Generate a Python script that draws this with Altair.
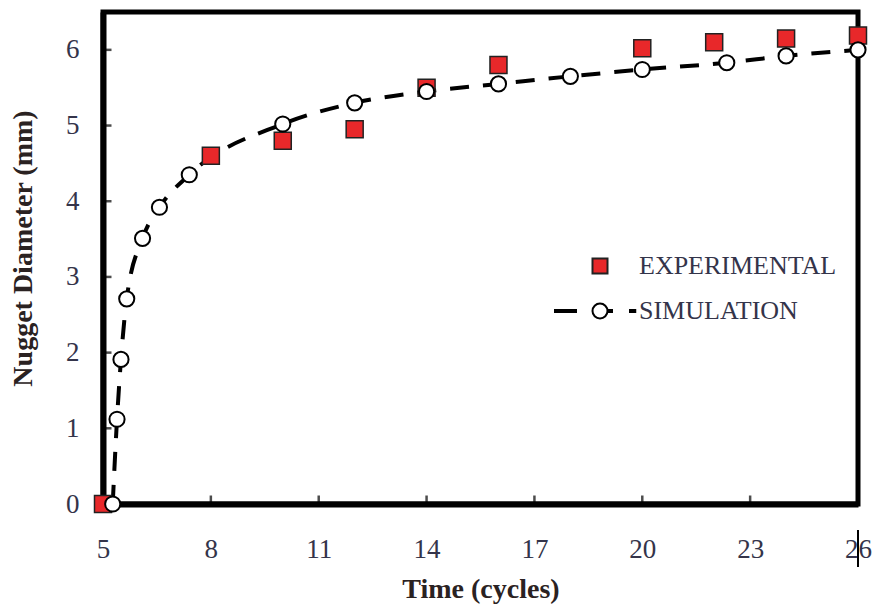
import altair as alt
import pandas as pd

# ---- data ----
exp_time = [5, 8, 10, 12, 14, 16, 20, 22, 24, 26]
exp_diam = [0, 4.6, 4.8, 4.95, 5.5, 5.8, 6.02, 6.1, 6.15, 6.19]

sim_time = [5.27, 5.39, 5.5, 5.66, 6.1, 6.57, 7.4, 10, 12, 14, 16, 18, 20, 22.35, 24, 26]
sim_diam = [0, 1.12, 1.91, 2.71, 3.51, 3.92, 4.35, 5.02, 5.3, 5.45, 5.55, 5.65, 5.74, 5.83, 5.92, 6.0]

x_ticks = [5, 8, 11, 14, 17, 20, 23, 26]
y_ticks = [0, 1, 2, 3, 4, 5, 6]
series_names = ["EXPERIMENTAL", "SIMULATION"]

exp_df = pd.DataFrame({"t": exp_time, "d": exp_diam})
sim_df = pd.DataFrame({"t": sim_time, "d": sim_diam})
xt_df = pd.DataFrame({"t": x_ticks})
yt_df = pd.DataFrame({"d": y_ticks})
leg_df = pd.DataFrame({"series": series_names})

SERIF = "Liberation Serif"
LABEL_COLOR = "#34344a"
TITLE_COLOR = "#2a2222"
RED = "#e8282a"

xscale = alt.Scale(domain=[5, 26], nice=False, zero=False)
yscale = alt.Scale(domain=[0, 6.5], nice=False)

xaxis = alt.Axis(values=x_ticks, format="d", title="Time (cycles)", labelFlush=False,
                 labelPadding=32, titleY=93, titleBaseline="alphabetic")
yaxis = alt.Axis(values=y_ticks, format="d", title="Nugget Diameter (mm)", labelFlush=False,
                 labelPadding=24, titleX=-72, titleY=236, titleAngle=270,
                 titleBaseline="alphabetic", titleAlign="center")

X = alt.X("t:Q", scale=xscale, axis=xaxis)
Y = alt.Y("d:Q", scale=yscale, axis=yaxis)

sim_line = alt.Chart(sim_df).mark_line(
    color="black", strokeWidth=4, strokeDash=[19, 14], interpolate="monotone"
).encode(x=X, y=Y)

exp_pts = alt.Chart(exp_df).mark_point(
    shape="square", filled=True, fill=RED, stroke="#222", strokeWidth=1.5,
    size=289, opacity=1
).encode(x=X, y=Y)

sim_pts = alt.Chart(sim_df).mark_point(
    shape="circle", filled=True, fill="white", stroke="black", strokeWidth=2,
    size=230, opacity=1
).encode(x=X, y=Y)

x_tick_marks = alt.Chart(xt_df).mark_tick(
    orient="vertical", size=17, thickness=2.5, color="black", clip=True
).encode(x=alt.X("t:Q", scale=xscale), y=alt.datum(0))

y_tick_marks = alt.Chart(yt_df).mark_tick(
    orient="horizontal", size=17, thickness=2.5, color="black", clip=True
).encode(y=alt.Y("d:Q", scale=yscale), x=alt.datum(5))

# legend symbol for the simulation: circle with dashes on both sides
sim_symbol = ("M1,0A1,1,0,1,1,-1,0A1,1,0,1,1,1,0Z"
              "M-6.0,-0.12H-3.2V0.12H-6.0Z"
              "M1,-0.12H1.6V0.12H1Z"
              "M4.0,-0.12H4.7V0.12H4.0Z")

legend_layer = alt.Chart(leg_df).mark_point(
    filled=True, opacity=0, strokeWidth=2
).encode(
    shape=alt.Shape("series:N", scale=alt.Scale(domain=series_names, range=["square", sim_symbol]),
                    legend=alt.Legend(title=None, orient="none", legendX=484, legendY=241,
                                      symbolSize=225, symbolOpacity=1,
                                      symbolStrokeWidth=2, labelFont=SERIF, labelFontSize=26,
                                      labelColor=LABEL_COLOR, labelOffset=26, rowPadding=19,
                                      labelLimit=0, padding=0)),
    fill=alt.Fill("series:N", scale=alt.Scale(domain=series_names, range=[RED, "white"]),
                  legend=None),
    stroke=alt.Stroke("series:N", scale=alt.Scale(domain=series_names, range=["#222222", "#000000"]),
                      legend=None),
)

artifact = alt.Chart(xt_df).mark_rule(color="black", strokeWidth=1.5).encode(
    x=alt.datum(26), y=alt.value(518), y2=alt.value(555)
)

chart = alt.layer(
    x_tick_marks, y_tick_marks, sim_line, exp_pts, sim_pts, legend_layer, artifact
).properties(
    width=755, height=492,
    autosize=alt.AutoSizeParams(type="none"),
    padding={"left": 95, "top": 4, "right": 14, "bottom": 101},
).configure_view(
    stroke="black", strokeWidth=5
).configure_axis(
    grid=False, ticks=False, domainColor="black", domainWidth=6,
    labelFont=SERIF, labelFontSize=27, labelColor=LABEL_COLOR,
    titleFont=SERIF, titleFontSize=28, titleFontWeight="bold", titleColor=TITLE_COLOR,
)

chart.save("out.html", embed_options={"renderer": "svg", "actions": False})
